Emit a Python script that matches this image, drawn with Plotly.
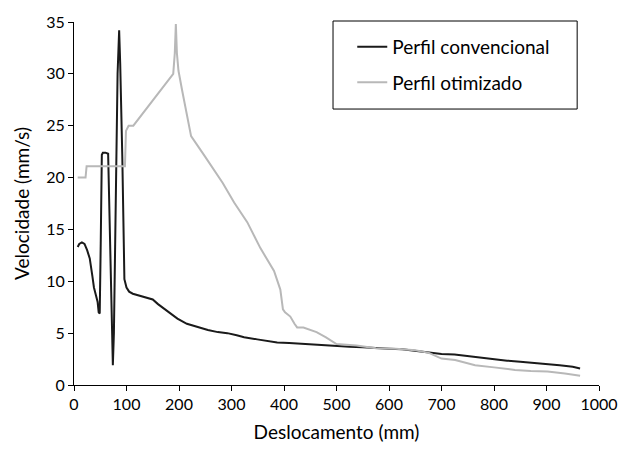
import plotly.graph_objects as go

# Perfil convencional
conv_x = [7, 10, 15, 20, 25, 30, 35, 38, 42, 45, 47, 49, 51, 53, 55, 60, 65, 66, 68, 72, 74, 76, 80, 83, 86, 88, 92, 95, 96, 100,
          105, 112, 120, 135, 150, 160, 173, 185, 197, 215, 236, 255, 274, 292, 310, 324, 349, 370, 387, 410, 425, 450, 481,
          500, 525, 550, 575, 600, 625, 650, 675, 700, 725, 750, 775, 800, 825, 850, 875, 900, 925, 950, 964]
conv_v = [13.3, 13.6, 13.75, 13.6, 13.0, 12.2, 10.5, 9.4, 8.6, 8.0, 7.0, 6.9, 14.0, 22.2, 22.4, 22.4, 22.3, 20.0, 15.0, 4.0, 1.9,
          5.0, 20.0, 30.0, 34.2, 31.0, 22.0, 12.0, 10.2, 9.4, 9.0, 8.8, 8.7, 8.45, 8.25, 7.8, 7.3, 6.8, 6.4, 5.9, 5.55, 5.3,
          5.1, 5.0, 4.8, 4.6, 4.4, 4.25, 4.1, 4.05, 4.0, 3.95, 3.8, 3.75, 3.7, 3.65, 3.55, 3.5, 3.45, 3.3, 3.15, 3.0, 2.95,
          2.8, 2.65, 2.45, 2.35, 2.25, 2.15, 2.0, 1.9, 1.75, 1.6]

# Perfil otimizado
otim_x = [7, 22, 24, 40, 60, 80, 97, 99, 104, 113, 189, 192, 194, 196, 199, 206, 223, 250, 274, 283, 305, 330, 355, 381, 393,
          398, 402, 412, 420, 425, 437, 462, 480, 500, 538, 575, 613, 650, 676, 700, 726, 764, 800, 840, 870, 902, 935, 964]
otim_v = [20.0, 20.0, 21.1, 21.1, 21.1, 21.1, 21.1, 24.5, 25.0, 25.0, 30.0, 32.0, 34.8, 32.0, 30.3, 28.4, 24.0, 22.0, 20.2,
          19.5, 17.6, 15.7, 13.2, 11.0, 9.2, 7.3, 7.0, 6.6, 5.9, 5.55, 5.55, 5.1, 4.6, 3.95, 3.8, 3.55, 3.5, 3.35, 3.1, 2.55,
          2.4, 1.9, 1.7, 1.45, 1.35, 1.3, 1.1, 0.9]

x_ticks = [0, 100, 200, 300, 400, 500, 600, 700, 800, 900, 1000]
y_ticks = [0, 5, 10, 15, 20, 25, 30, 35]

FONT = "Lato"

fig = go.Figure()
fig.add_trace(go.Scatter(x=conv_x, y=conv_v, mode="lines", name="Perfil convencional",
                         line=dict(color="#1a1a1a", width=2), legendgroup="a"))
fig.add_trace(go.Scatter(x=otim_x, y=otim_v, mode="lines", name="Perfil otimizado",
                         line=dict(color="#b8b8b8", width=2), legendgroup="b"))

fig.update_layout(
    width=630, height=453,
    margin=dict(l=74, r=27, t=18, b=68),
    paper_bgcolor="white", plot_bgcolor="white",
    font=dict(family=FONT, size=16, color="black"),
    showlegend=True,
    legend=dict(x=0.53, y=0.984, xanchor="left", yanchor="top",
                bgcolor="rgba(0,0,0,0)", borderwidth=0,
                font=dict(family=FONT, size=19, color="black"), tracegroupgap=8,
                traceorder="grouped"),
    shapes=[dict(type="rect", xref="paper", yref="paper",
                 x0=(335 - 74) / 529, x1=(581 - 74) / 529,
                 y0=(385 - 106) / 367, y1=(385 - 17) / 367,
                 line=dict(color="black", width=1), fillcolor="rgba(0,0,0,0)")],
)
fig.update_xaxes(range=[0, 1000], tickvals=x_ticks, showgrid=False, zeroline=False,
                 showline=True, linecolor="black", linewidth=1, ticks="outside", ticklen=5,
                 tickcolor="black",
                 title=dict(text="Deslocamento (mm)", standoff=13,
                            font=dict(family=FONT, size=19, color="black")),
                 tickfont=dict(family=FONT, size=16, color="black"))
fig.update_yaxes(range=[0, 35], tickvals=y_ticks, showgrid=False, zeroline=False,
                 showline=True, linecolor="black", linewidth=1, ticks="outside", ticklen=5,
                 tickcolor="black",
                 title=dict(text="Velocidade (mm/s)", standoff=11,
                            font=dict(family=FONT, size=19, color="black")),
                 tickfont=dict(family=FONT, size=16, color="black"))

fig.write_html("out.html")
